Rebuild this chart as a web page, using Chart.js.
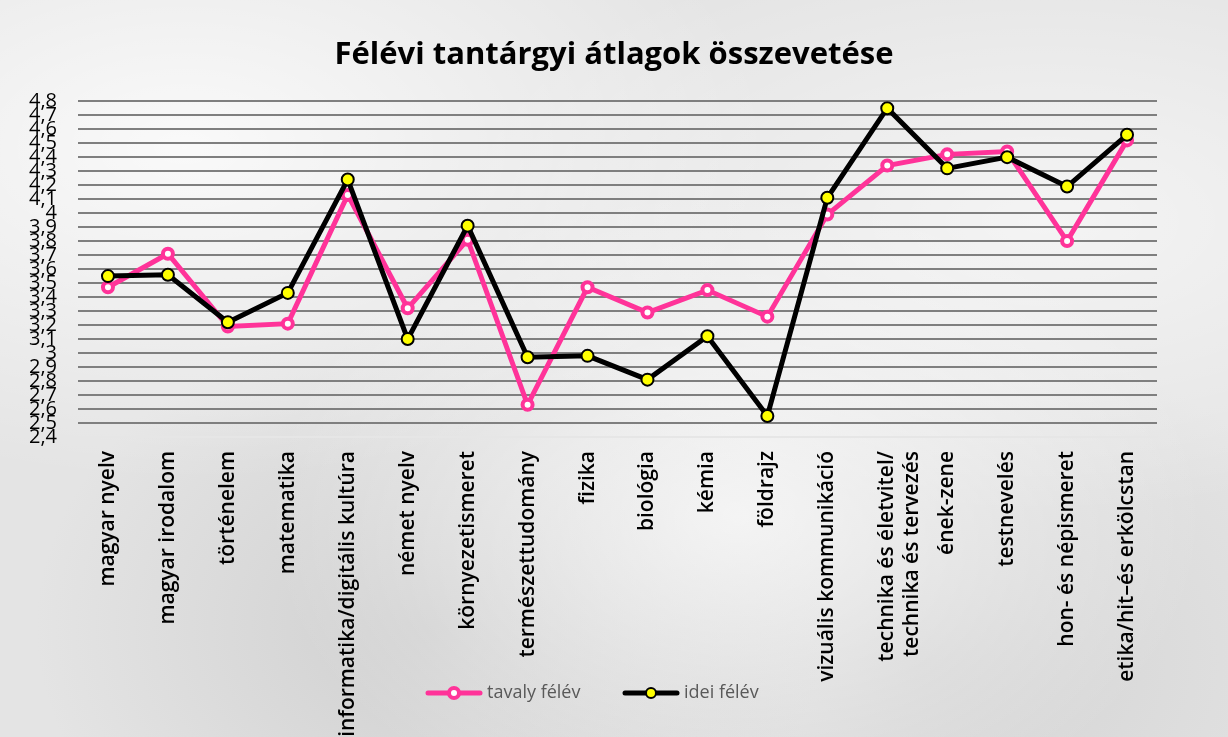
<!DOCTYPE html>
<html>
<head>
<meta charset="utf-8">
<script src="https://cdn.jsdelivr.net/npm/chart.js@4/dist/chart.umd.min.js"></script>
<style>
  html, body { margin: 0; padding: 0; }
  body {
    width: 1228px;
    height: 737px;
    overflow: hidden;
    background-color: #e4e4e4;
    background-image:
      radial-gradient(ellipse at 15% 20%, rgba(255,255,255,0.8), rgba(255,255,255,0) 40%),
      radial-gradient(ellipse at 60% 70%, rgba(255,255,255,0.7), rgba(255,255,255,0) 45%),
      radial-gradient(ellipse at 85% 30%, rgba(255,255,255,0.6), rgba(255,255,255,0) 40%),
      radial-gradient(ellipse at 35% 85%, rgba(170,170,170,0.35), rgba(170,170,170,0) 35%),
      radial-gradient(ellipse at 75% 90%, rgba(170,170,170,0.3), rgba(170,170,170,0) 35%);
  }
  #wrap { position: absolute; left: 0; top: 0; width: 1228px; height: 737px; }
</style>
</head>
<body>
<div id="wrap"><canvas id="chart" width="1228" height="737"></canvas></div>
<script>
const subjects = [
  "magyar nyelv",
  "magyar irodalom",
  "történelem",
  "matematika",
  "informatika/digitális kultúra",
  "német nyelv",
  "környezetismeret",
  "természettudomány",
  "fizika",
  "biológia",
  "kémia",
  "földrajz",
  "vizuális kommunikáció",
  ["technika és életvitel/", "technika és tervezés"],
  "ének-zene",
  "testnevelés",
  "hon- és népismeret",
  "etika/hit–és erkölcstan",
];

const lastTerm = [3.47, 3.71, 3.19, 3.21, 4.13, 3.32, 3.81, 2.63, 3.47, 3.29, 3.45, 3.26, 3.99, 4.34, 4.42, 4.44, 3.80, 4.52];
const thisTerm = [3.55, 3.56, 3.22, 3.43, 4.24, 3.10, 3.91, 2.97, 2.98, 2.81, 3.12, 2.55, 4.11, 4.75, 4.32, 4.40, 4.19, 4.56];

const seriesNames = ["tavaly félév", "idei félév"];
const yMin = 2.4;
const yMax = 4.8;
const yStep = 0.1;

const PINK = "#ff3399";
const FONT = "'Open Sans', Lato, sans-serif";

// small line+marker pictures for the legend
function legendIcon(lineColor, fill, stroke, border) {
  const c = document.createElement("canvas");
  c.width = 58;
  c.height = 16;
  const g = c.getContext("2d");
  g.strokeStyle = lineColor;
  g.lineWidth = 5;
  g.lineCap = "round";
  g.beginPath();
  g.moveTo(3, 8);
  g.lineTo(55, 8);
  g.stroke();
  g.beginPath();
  g.arc(29, 8, 5, 0, Math.PI * 2);
  g.fillStyle = fill;
  g.fill();
  g.lineWidth = border;
  g.strokeStyle = stroke;
  g.stroke();
  return c;
}
const legendIcons = [
  legendIcon(PINK, "#ffffff", PINK, 4),
  legendIcon("#000000", "#ffff00", "#000000", 2),
];

// legend drawn over the bottom of the label area, like the original
const bottomLegend = {
  id: "bottomLegend",
  afterDraw(chart) {
    const g = chart.ctx;
    const y = 693;
    const starts = [425, 622];
    g.save();
    g.font = "18px " + FONT;
    g.fillStyle = "#595959";
    g.textBaseline = "middle";
    chart.data.datasets.forEach((ds, i) => {
      const icon = legendIcons[i];
      g.drawImage(icon, starts[i], y - icon.height / 2);
      g.fillText(ds.label, starts[i] + icon.width + 4, y);
    });
    g.restore();
  },
};

const ctx = document.getElementById("chart").getContext("2d");
new Chart(ctx, {
  type: "line",
  data: {
    labels: subjects,
    datasets: [
      {
        label: seriesNames[0],
        data: lastTerm,
        order: 2,
        borderColor: PINK,
        borderWidth: 5,
        pointRadius: 5,
        pointBorderWidth: 4,
        pointBackgroundColor: "#ffffff",
        pointBorderColor: PINK,
        tension: 0,
      },
      {
        label: seriesNames[1],
        data: thisTerm,
        order: 1,
        borderColor: "#000000",
        borderWidth: 5,
        pointRadius: 6,
        pointBorderWidth: 2,
        pointBackgroundColor: "#ffff00",
        pointBorderColor: "#000000",
        tension: 0,
      },
    ],
  },
  plugins: [bottomLegend],
  options: {
    responsive: false,
    animation: false,
    layout: { padding: 0 },
    plugins: {
      title: {
        display: true,
        text: "Félévi tantárgyi átlagok összevetése",
        color: "#000000",
        font: { family: FONT, size: 31, weight: "bold" },
        padding: { top: 37, bottom: 27 },
      },
      legend: { display: false },
      tooltip: { enabled: false },
    },
    scales: {
      x: {
        offset: true,
        grid: { display: false, drawTicks: false },
        border: { display: true, color: "#e6e6e6", width: 2 },
        ticks: {
          autoSkip: false,
          minRotation: 90,
          maxRotation: 90,
          padding: 14,
          color: "#000000",
          font: { family: FONT, size: 21, weight: "600" },
        },
        afterFit(scale) { scale.height = 300; },
      },
      y: {
        min: yMin,
        max: yMax,
        grid: { color: "#7f7f7f", lineWidth: 2, drawTicks: false },
        border: { display: false },
        ticks: {
          stepSize: yStep,
          autoSkip: false,
          padding: 21,
          color: "#000000",
          font: { family: FONT, size: 20 },
          callback(v) {
            return String(Number(v.toFixed(1))).replace(".", ",");
          },
        },
        afterFit(scale) { scale.width = 78; },
      },
      // empty right-hand margin so the title centres on the whole picture
      right: {
        position: "right",
        grid: { display: false, drawTicks: false },
        border: { display: false },
        ticks: { display: false },
        afterFit(scale) { scale.width = 71; },
      },
    },
  },
});
</script>
</body>
</html>
